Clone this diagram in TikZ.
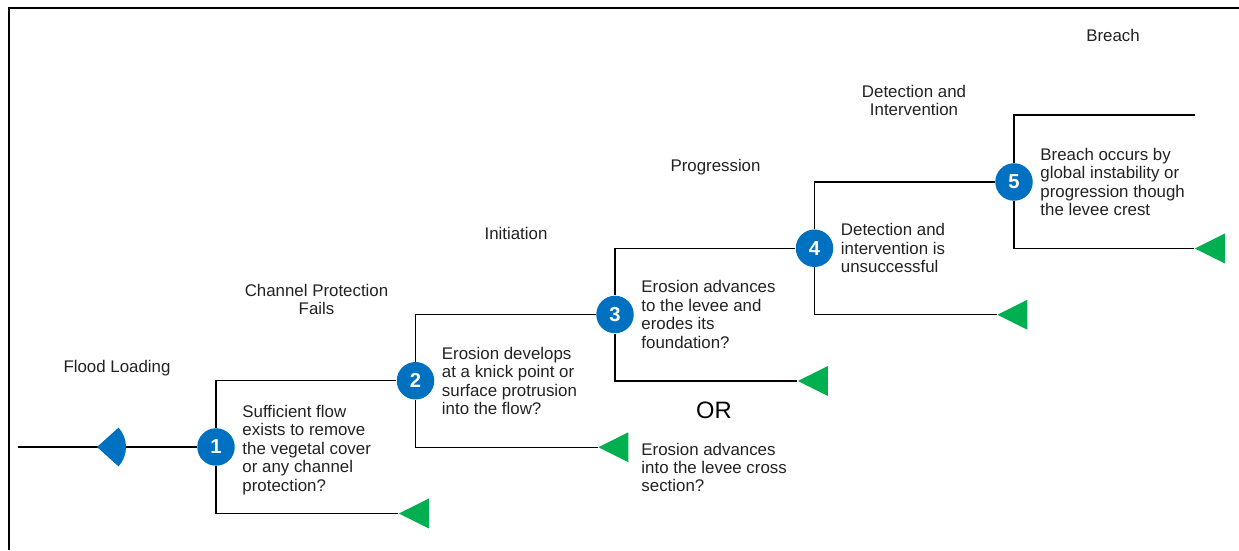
\documentclass[tikz,border=0pt]{standalone}
\usepackage{fontspec}
\setmainfont{Liberation Sans}
\usetikzlibrary{shapes.geometric, positioning}
\definecolor{stepblue}{HTML}{0070C0}
\definecolor{stepgreen}{HTML}{00B050}
\definecolor{textgray}{HTML}{222222}
\tikzset{
	stepnode/.style = {circle, minimum size=0.75cm, inner sep=0pt, fill=stepblue, text=white, font=\fontsize{11.5}{11.5}\selectfont\bfseries},
	endmark/.style = {isosceles triangle, isosceles triangle apex angle=53.13, shape border rotate=180, minimum width=0.6cm, minimum height=0.6cm, inner sep=0pt, fill=stepgreen, anchor=apex},
	question/.style = {align=left, inner sep=0pt, text=textgray, font=\fontsize{9.6}{10.5}\selectfont},
	phase/.style = {align=center, inner sep=0pt, text=textgray, font=\fontsize{9.6}{10.5}\selectfont},
	ortext/.style = {inner sep=0pt, font=\fontsize{13.5}{14}\selectfont},
	link/.style = {draw, line width=0.6pt},
	frame/.style = {draw, line width=1.1pt}
}
\begin{document}
\begin{tikzpicture}[node distance=3.99cm]
				\useasboundingbox (0,0) rectangle (24.78,11);
				\path [frame] (0.18,0) -- (0.18,10.84) -- (24.78,10.84);

				% Define event tree's steps
				\node (n1) [stepnode] at (4.32,2.06) {1};
				\node (n2) [stepnode, right of=n1, yshift=1.325cm] {2};
				\node (n3) [stepnode, right of=n2, yshift=1.325cm] {3};
				\node (n4) [stepnode, right of=n3, yshift=1.325cm] {4};
				\node (n5) [stepnode, right of=n4, yshift=1.325cm] {5};

				% Define end marks
				\node (t1) [endmark] at ([xshift=3.64cm, yshift=-1.33cm]n1) {};
				\node (t2) [endmark] at ([xshift=3.64cm, yshift=-1.33cm]n2) {};
				\node (t3) [endmark] at ([xshift=3.64cm, yshift=-1.33cm]n3) {};
				\node (t4) [endmark] at ([xshift=3.64cm, yshift=-1.33cm]n4) {};
				\node (t5) [endmark] at ([xshift=3.6cm, yshift=-1.33cm]n5) {};
				\coordinate (e5) at ([xshift=3.62cm, yshift=1.34cm]n5);
				\coordinate (start) at ([xshift=-3.96cm]n1);
				\coordinate (fan) at ([xshift=-2.38cm]n1);

				% Define phases
				\node (p1) [phase] at ([xshift=-1.98cm, yshift=1.57cm]n1) {Flood Loading};
				\node (p2) [phase] at ([xshift=-1.98cm, yshift=1.63cm]n2) {Channel Protection\\Fails};
				\node (p3) [phase] at ([xshift=-1.98cm, yshift=1.63cm]n3) {Initiation};
				\node (p4) [phase] at ([xshift=-1.98cm, yshift=1.63cm]n4) {Progression};
				\node (p5) [phase] at ([xshift=-2.0cm, yshift=1.63cm]n5) {Detection and\\Intervention};
				\node (p6) [phase] at ([xshift=1.98cm, yshift=2.94cm]n5) {Breach};

				% Define questions
				\node (q1) [question, right=0.14cm of n1, yshift=-0.06cm] {Sufficient flow\\exists to remove\\the vegetal cover\\or any channel\\protection?};
				\node (q2) [question, right=0.14cm of n2] {Erosion develops\\at a knick point or\\surface protrusion\\into the flow?};
				\node (q3) [question, right=0.14cm of n3] {Erosion advances\\to the levee and\\erodes its\\foundation?};
				\node (or) [ortext] at ([xshift=1.98cm, yshift=-1.92cm]n3) {OR};
				\node (q3b) [question, anchor=west] at ([yshift=-3.06cm]q3.west) {Erosion advances\\into the levee cross\\section?};
				\node (q4) [question, right=0.14cm of n4] {Detection and\\intervention is\\unsuccessful};
				\node (q5) [question, right=0.14cm of n5] {Breach occurs by\\global instability or\\progression though\\the levee crest};

				% Define event tree's links
				\path [link](start) -- (n1);
				\fill [stepblue](fan) -- ++(42:0.58) arc[start angle=42, end angle=-42, radius=0.58] -- cycle;
				\path [link](n1) |- (n2);
				\path [link](n1) |- (t1);
				\path [link](n2) |- (n3);
				\path [link](n2) |- (t2);
				\path [link](n3) |- (n4);
				\path [link](n3) |- (t3);
				\path [link](n4) |- (n5);
				\path [link](n4) |- (t4);
				\path [link](n5) |- (e5);
				\path [link](n5) |- (t5);
			\end{tikzpicture}
\end{document}
